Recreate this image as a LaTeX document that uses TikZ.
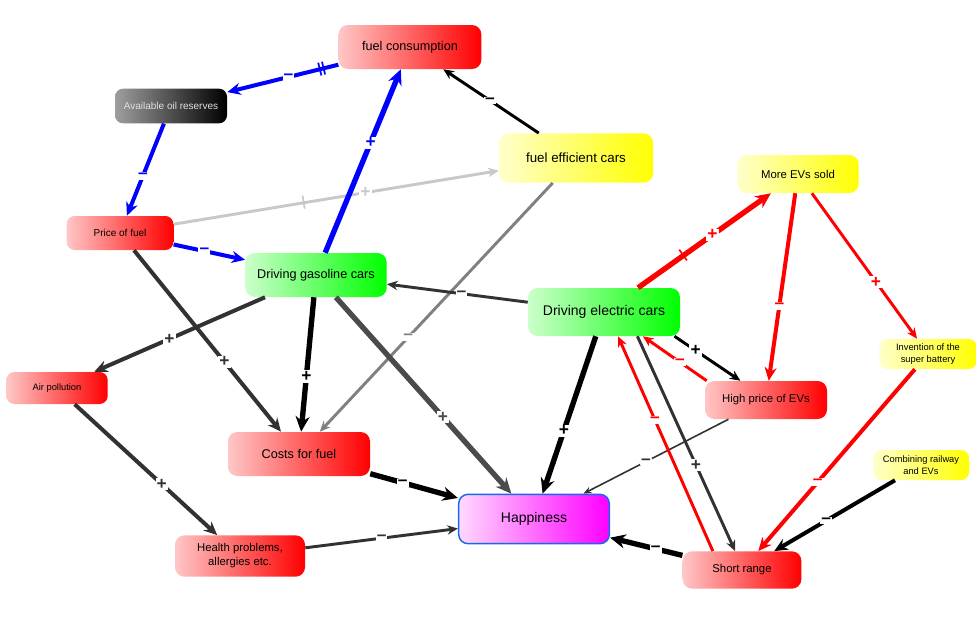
\documentclass[tikz,border=0pt]{standalone}
\usepackage{fontspec}
\setmainfont{Liberation Sans}
\usepackage{tikz}
\usepackage{xcolor}
\usetikzlibrary{arrows.meta}

\definecolor{darkline}{RGB}{50,50,50}
\definecolor{midline}{RGB}{75,75,75}
\definecolor{grayline}{RGB}{128,128,128}
\definecolor{lightline}{RGB}{200,200,200}
\definecolor{happyborder}{RGB}{20,105,240}

\newcommand{\nodefont}[2]{\fontsize{#1}{#2}\selectfont}

\tikzset{
  box/.style={rounded corners=7pt, align=center, text=black, inner sep=2pt},
  redbox/.style={box, left color=red!22, middle color=red!62, right color=red},
  greenbox/.style={box, left color=green!20, middle color=green!55, right color=green},
  yellowbox/.style={box, left color=yellow!20, middle color=yellow!60, right color=yellow},
  blackbox/.style={box, left color=black!38, middle color=black!85, right color=black,
    text=white!88!black},
  happybox/.style={box, draw=happyborder, line width=1.1pt,
    left color=magenta!15, middle color=magenta!60, right color=magenta},
  sign/.style={fill=white, inner sep=0.8pt, font=\bfseries\nodefont{13}{13}},
  tick/.style={sloped, inner sep=0pt, font=\bfseries\nodefont{10.5}{10.5}},
  lnA/.style={line width=1.2pt, -{Stealth[length=6pt, width=5pt]}},
  lnB/.style={line width=2.2pt, -{Stealth[length=8pt, width=7pt]}},
  lnC/.style={line width=3pt, -{Stealth[length=10pt, width=9pt]}},
  lnD/.style={line width=4pt, -{Stealth[length=11.5pt, width=10.5pt]}},
}

\begin{document}
\begin{tikzpicture}[x=0.75pt, y=-0.75pt]
  \useasboundingbox (0,0) rectangle (979,633);

  \node[redbox, minimum width=107pt, minimum height=33pt, font=\nodefont{9.5}{11}]
    (fcons) at (410,47) {fuel consumption};
  \node[blackbox, rounded corners=6pt, minimum width=84pt, minimum height=26pt,
    font=\nodefont{7.5}{9}] (oil) at (171,106) {Available oil reserves};
  \node[redbox, rounded corners=6pt, minimum width=80pt, minimum height=25.5pt,
    font=\nodefont{7.5}{9}] (price) at (120,233) {Price of fuel};
  \node[yellowbox, minimum width=115.5pt, minimum height=37pt, font=\nodefont{10}{12}]
    (eff) at (576,158) {fuel efficient cars};
  \node[yellowbox, minimum width=91pt, minimum height=28.5pt, font=\nodefont{8.5}{10}]
    (evsold) at (798,174) {More EVs sold};
  \node[greenbox, minimum width=106pt, minimum height=33pt, font=\nodefont{9.5}{11}]
    (gas) at (316,275) {Driving gasoline cars};
  \node[greenbox, minimum width=114pt, minimum height=36pt, font=\nodefont{10.5}{12}]
    (elec) at (604,312) {Driving electric cars};
  \node[yellowbox, rounded corners=6pt, minimum width=73pt, minimum height=22.5pt,
    font=\nodefont{7}{8.5}] (battery) at (928,354) {Invention of the\\super battery};
  \node[redbox, rounded corners=6pt, minimum width=76pt, minimum height=24pt,
    font=\nodefont{7}{8.5}] (air) at (57,388) {Air pollution};
  \node[redbox, minimum width=91.5pt, minimum height=28.5pt, font=\nodefont{8.5}{10}]
    (evprice) at (766,400) {High price of EVs};
  \node[redbox, minimum width=106.5pt, minimum height=33pt, font=\nodefont{9.5}{11}]
    (costs) at (299,454) {Costs for fuel};
  \node[yellowbox, rounded corners=6pt, minimum width=72pt, minimum height=22.5pt,
    font=\nodefont{7}{8.5}] (rail) at (921,465) {Combining railway\\and EVs};
  \node[happybox, minimum width=113pt, minimum height=37pt, font=\nodefont{10.5}{12}]
    (happy) at (534,519) {Happiness};
  \node[redbox, minimum width=97.5pt, minimum height=31pt, font=\nodefont{8.5}{10.5}]
    (health) at (240,556) {Health problems,\\allergies etc.};
  \node[redbox, minimum width=89pt, minimum height=28pt, font=\nodefont{8.5}{10}]
    (range) at (742,570) {Short range};

  % fuel and oil
  \draw[blue, lnC] (fcons) -- (oil)
    node[tick, pos=0.15] {||}
    node[sign, pos=0.45] {\textendash};
  \draw[blue, lnC] (oil) -- (price)
    node[sign, pos=0.57] {\textendash};
  \draw[blue, lnC] (price) -- (gas)
    node[sign, pos=0.43] {\textendash};
  \draw[lightline, lnB] (price) -- (eff)
    node[tick, pos=0.4] {|}
    node[sign, pos=0.59] {+};
  \draw[blue, lnD] (gas) -- (fcons)
    node[sign, pos=0.6] {+};
  \draw[black, lnB] (eff) -- (fcons)
    node[sign, pos=0.51] {\textendash};
  \draw[grayline, lnB] (eff) -- (costs)
    node[sign, pos=0.62] {\textendash};

  % gasoline cars
  \draw[darkline, lnB] (elec) -- (gas)
    node[sign, pos=0.47] {\textendash};
  \draw[darkline, lnC] (gas) -- (air)
    node[sign, pos=0.56] {+};
  \draw[darkline, lnC] (price) -- (costs)
    node[sign, pos=0.615] {+};
  \draw[black, lnD] (gas) -- (costs)
    node[sign, pos=0.59] {+};
  \draw[midline, lnD] (gas) -- (happy)
    node[sign, pos=0.61] {+};
  \draw[darkline, lnC] (air) -- (health)
    node[sign, pos=0.61] {+};
  \draw[black, lnD] (costs) -- (happy)
    node[sign, pos=0.37] {\textendash};
  \draw[darkline, lnB] (health) -- (happy)
    node[sign, pos=0.5] {\textendash};

  % electric cars
  \draw[black, lnD] (elec) -- (happy)
    node[sign, pos=0.6] {+};
  \draw[red, lnD] (elec) -- (evsold)
    node[tick, pos=0.34] {|}
    node[sign, pos=0.56] {+};
  \draw[red, lnC] (evsold) -- (evprice)
    node[sign, pos=0.6] {\textendash};
  \draw[red, lnB] (evsold) -- (battery)
    node[sign, pos=0.61] {+};
  \draw[black, lnB] (elec.341) -- (evprice.143)
    node[sign, pos=0.32] {+};
  \draw[red, lnB] (evprice.162) -- (elec.328)
    node[sign, pos=0.42] {\textendash};
  \draw[darkline, lnA] (evprice) -- (happy)
    node[sign, pos=0.57] {\textendash};
  \draw[red, lnB] (range.147) -- (elec.300)
    node[sign, pos=0.61] {\textendash};
  \draw[darkline, lnB] (elec.324) -- (range.110)
    node[sign, pos=0.6] {+};
  \draw[red, lnC] (battery) -- (range)
    node[sign, pos=0.62] {\textendash};
  \draw[black, lnC] (rail) -- (range)
    node[sign, pos=0.57] {\textendash};
  \draw[black, lnD] (range) -- (happy)
    node[sign, pos=0.37] {\textendash};
\end{tikzpicture}
\end{document}
